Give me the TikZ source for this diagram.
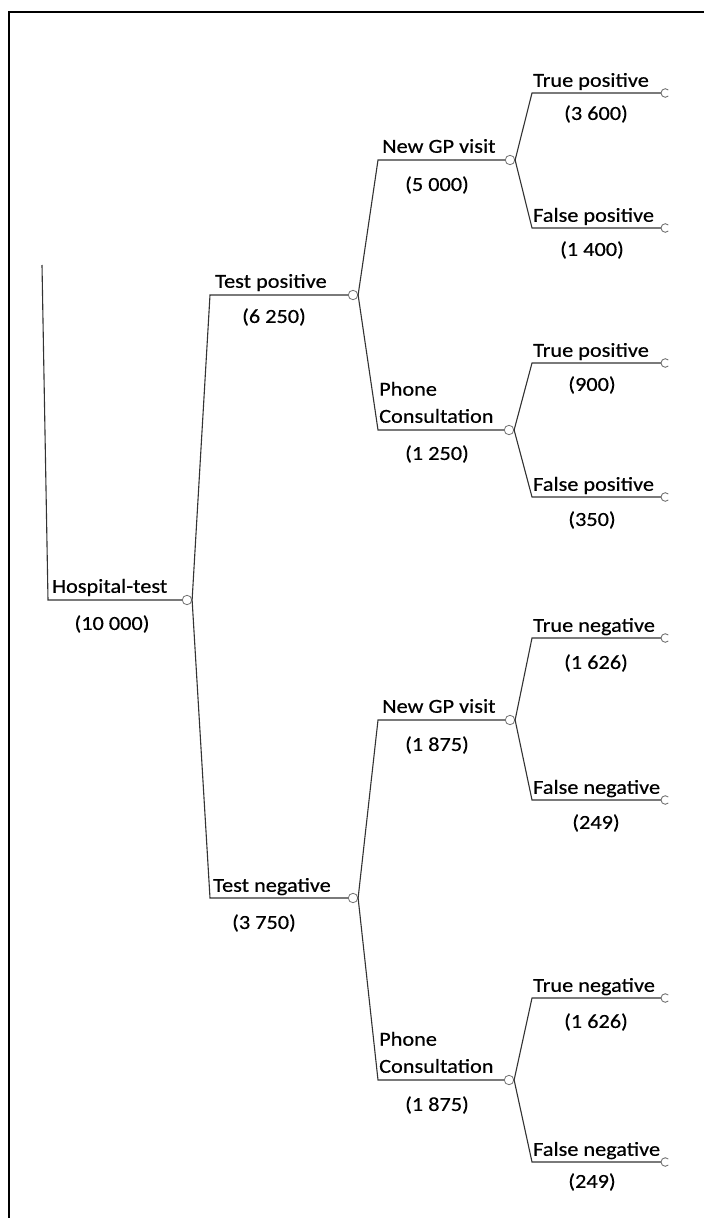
\documentclass[tikz,border=0pt]{standalone}
\usepackage{fontspec}
\setmainfont{Carlito}[FakeStretch=1.12,FakeBold=0.5]
\usepackage{tikz}

\tikzset{
  branch/.style={draw=black!80,line width=1.1pt},
  chance/.style={circle,draw=black!55,fill=white,line width=0.8pt,inner sep=0pt,minimum size=3.3mm},
  optlabel/.style={anchor=south west,inner sep=0pt,text depth=0pt,align=left},
  optnum/.style={anchor=center,inner sep=0pt},
  endpt/.pic={\draw[black!55,line width=0.9pt] (1.5mm,0) ++(45:1.5mm) arc[start angle=45,end angle=315,radius=1.5mm];}
}

\begin{document}
\begin{tikzpicture}[x=0.35mm,y=-0.35mm,font=\fontsize{19.8pt}{27pt}\selectfont]
		\useasboundingbox (0,0) rectangle (704,1218);
		\draw[line width=0.7mm] (9,1218) -- (9,12) -- (704,12);

		% root
		\coordinate (rtop) at (42,265);
		\coordinate (rbot) at (48,600);
		\node[chance] (hosp) at (187,600) {};
		\draw[branch] (rtop) -- (rbot) -- (hosp.west);
		\node[optlabel] (hosplbl) at (52,593) {Hospital-test};
		\node[optnum] (hospnum) at (112,624) {(10 000)};

		% test result
		\coordinate (posc) at (210,295);
		\node[chance] (pos) at (353,295) {};
		\draw[branch] (hosp.east) -- (posc) -- (pos.west);
		\node[optlabel] (poslbl) at (215,288) {Test positive};
		\node[optnum] (posnum) at (274,317) {(6 250)};

		\coordinate (negc) at (210,898);
		\node[chance] (neg) at (353,898) {};
		\draw[branch] (hosp.east) -- (negc) -- (neg.west);
		\node[optlabel] (neglbl) at (213,892) {Test negative};
		\node[optnum] (negnum) at (264,923) {(3 750)};

		% follow-up, positive
		\coordinate (gp1c) at (378,160);
		\node[chance] (gp1) at (510,160) {};
		\draw[branch] (pos.east) -- (gp1c) -- (gp1.west);
		\node[optlabel] (gp1lbl) at (382,153) {New GP visit};
		\node[optnum] (gp1num) at (437,185) {(5 000)};

		\coordinate (ph1c) at (378,430);
		\node[chance] (ph1) at (509,430) {};
		\draw[branch] (pos.east) -- (ph1c) -- (ph1.west);
		\node[optlabel] (ph1lbl) at (379,423) {Phone\\Consultation};
		\node[optnum] (ph1num) at (437,454) {(1 250)};

		% follow-up, negative
		\coordinate (gp2c) at (378,720);
		\node[chance] (gp2) at (510,720) {};
		\draw[branch] (neg.east) -- (gp2c) -- (gp2.west);
		\node[optlabel] (gp2lbl) at (382,713) {New GP visit};
		\node[optnum] (gp2num) at (437,745) {(1 875)};

		\coordinate (ph2c) at (378,1080);
		\node[chance] (ph2) at (509,1080) {};
		\draw[branch] (neg.east) -- (ph2c) -- (ph2.west);
		\node[optlabel] (ph2lbl) at (379,1073) {Phone\\Consultation};
		\node[optnum] (ph2num) at (437,1105) {(1 875)};

		% outcomes
		\coordinate (tp1c) at (532,93);   \coordinate (tp1) at (661,93);
		\coordinate (fp1c) at (532,228);  \coordinate (fp1) at (661,228);
		\coordinate (tp2c) at (532,363);  \coordinate (tp2) at (661,363);
		\coordinate (fp2c) at (532,497);  \coordinate (fp2) at (661,497);
		\coordinate (tn1c) at (532,638);  \coordinate (tn1) at (661,638);
		\coordinate (fn1c) at (532,800);  \coordinate (fn1) at (661,800);
		\coordinate (tn2c) at (532,998);  \coordinate (tn2) at (661,998);
		\coordinate (fn2c) at (532,1162); \coordinate (fn2) at (661,1162);

		\draw[branch] (gp1.east) -- (tp1c) -- (tp1);
		\draw[branch] (gp1.east) -- (fp1c) -- (fp1);
		\draw[branch] (ph1.east) -- (tp2c) -- (tp2);
		\draw[branch] (ph1.east) -- (fp2c) -- (fp2);
		\draw[branch] (gp2.east) -- (tn1c) -- (tn1);
		\draw[branch] (gp2.east) -- (fn1c) -- (fn1);
		\draw[branch] (ph2.east) -- (tn2c) -- (tn2);
		\draw[branch] (ph2.east) -- (fn2c) -- (fn2);
		\foreach \e in {tp1,fp1,tp2,fp2,tn1,fn1,tn2,fn2}
			\pic at (\e) {endpt};

		\node[optlabel] (tp1lbl) at (533,87) {True positive};
		\node[optnum] (tp1num) at (596,114) {(3 600)};
		\node[optlabel] (fp1lbl) at (533,222) {False positive};
		\node[optnum] (fp1num) at (592,250) {(1 400)};
		\node[optlabel] (tp2lbl) at (533,357) {True positive};
		\node[optnum] (tp2num) at (592,385) {(900)};
		\node[optlabel] (fp2lbl) at (533,491) {False positive};
		\node[optnum] (fp2num) at (592,520) {(350)};
		\node[optlabel] (tn1lbl) at (533,632) {True negative};
		\node[optnum] (tn1num) at (596,663) {(1 626)};
		\node[optlabel] (fn1lbl) at (533,794) {False negative};
		\node[optnum] (fn1num) at (596,823) {(249)};
		\node[optlabel] (tn2lbl) at (533,992) {True negative};
		\node[optnum] (tn2num) at (596,1022) {(1 626)};
		\node[optlabel] (fn2lbl) at (533,1156) {False negative};
		\node[optnum] (fn2num) at (592,1182) {(249)};
	\end{tikzpicture}
\end{document}
